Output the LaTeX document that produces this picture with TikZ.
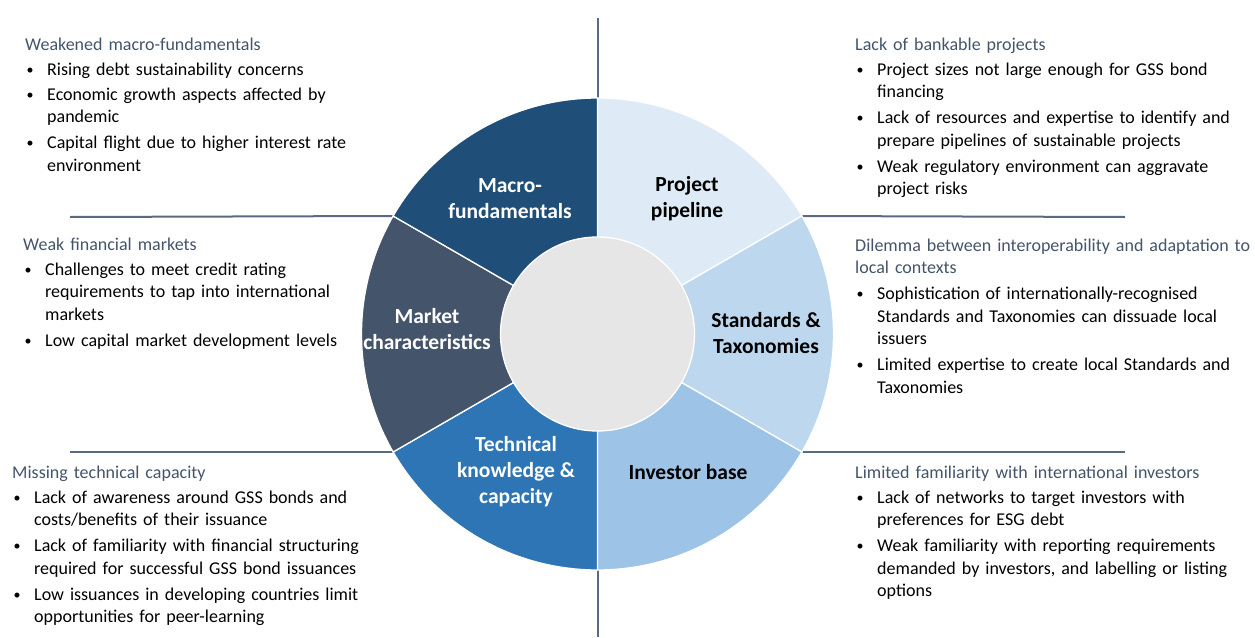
\documentclass[tikz,border=0pt]{standalone}
\usepackage{fontspec}
\setmainfont{Carlito}
\usepackage{tikz}
\usetikzlibrary{calc}
\definecolor{macroc}{HTML}{1F4E79}
\definecolor{marketc}{HTML}{44546A}
\definecolor{techc}{HTML}{2E75B6}
\definecolor{investc}{HTML}{9DC3E6}
\definecolor{standc}{HTML}{BDD7EE}
\definecolor{pipec}{HTML}{DEEBF7}
\definecolor{hubc}{HTML}{E7E6E6}
\definecolor{headc}{HTML}{44546A}
\definecolor{divc}{HTML}{5A6A82}
\newcommand{\bitem}[1]{\par\noindent\hspace*{1.5pt}%
  \makebox[20.5pt][l]{\raisebox{1pt}{\fontsize{14}{14}\selectfont\textbullet}}%
  \begin{tabular}[t]{@{}l@{}}#1\end{tabular}}
\newcommand{\bhead}[1]{\noindent{\color{headc}\begin{tabular}[t]{@{}l@{}}#1\end{tabular}}}

\begin{document}
\begin{tikzpicture}[x=1pt,y=-1pt,
    seg/.style={draw=white,line width=1.3pt},
    divider/.style={draw=divc,line width=2pt},
    seglabel/.style={font=\fontsize{21.5}{26}\selectfont\bfseries,align=center,inner sep=0pt},
    txtblock/.style={anchor=base west,inner sep=0pt,text width=420pt,align=left,
      font=\fontsize{18}{22.5}\selectfont\setlength{\parskip}{2.5pt}}]
  \useasboundingbox (0,0) rectangle (1255,637);

  \coordinate (c) at (597.5,334);
  \coordinate (vtop) at (597.5,18);
  \coordinate (vbot) at (597.5,637);
  \coordinate (hl1) at (70,217);
  \coordinate (hl2) at (70,452);
  \coordinate (hr1) at (1125,217);
  \coordinate (hr2) at (1125,452);

  % dividers
  \draw[divider] (vtop) -- (vbot);
  \draw[divider] (hl1) -- ($(c)+(210:236)$);
  \draw[divider] (hl2) -- ($(c)+(150:236)$);
  \draw[divider] (hr1) -- ($(c)+(-30:236)$);
  \draw[divider] (hr2) -- ($(c)+(30:236)$);

  % ring
  \foreach \a/\b/\col in {-90/-30/pipec, -30/30/standc, 30/90/investc,
      90/150/techc, 150/210/marketc, 210/270/macroc}
    \filldraw[seg,fill=\col] (c) -- ++(\a:236) arc (\a:\b:236) -- cycle;
  \filldraw[seg,fill=hubc] (c) circle (97);

  \node[seglabel,text=white] (macro) at (510,198.5) {Macro-\\fundamentals};
  \node[seglabel] (pipe) at (687,198.5) {Project\\pipeline};
  \node[seglabel] (stand) at (766,333.5) {Standards \&\\Taxonomies};
  \node[seglabel,text=white] (market) at (427,329.5) {Market\\characteristics};
  \node[seglabel,text=white] (tech) at (516,472) {Technical\\knowledge \&\\capacity};
  \node[seglabel] (invest) at (688,472) {Investor base};

  % text blocks
  \node[txtblock] (tl) at (25,50) {\bhead{Weakened macro-fundamentals}
    \bitem{Rising debt sustainability concerns}
    \bitem{Economic growth aspects affected by\\pandemic}
    \bitem{Capital flight due to higher interest rate\\environment}};
  \node[txtblock] (tr) at (855,50) {\bhead{Lack of bankable projects}
    \bitem{Project sizes not large enough for GSS bond\\financing}
    \bitem{Lack of resources and expertise to identify and\\prepare pipelines of sustainable projects}
    \bitem{Weak regulatory environment can aggravate\\project risks}};
  \node[txtblock] (ml) at (23,250) {\bhead{Weak financial markets}
    \bitem{Challenges to meet credit rating\\requirements to tap into international\\markets}
    \bitem{Low capital market development levels}};
  \node[txtblock] (mr) at (855,251) {\bhead{Dilemma between interoperability and adaptation to\\local contexts}
    \bitem{Sophistication of internationally-recognised\\Standards and Taxonomies can dissuade local\\issuers}
    \bitem{Limited expertise to create local Standards and\\Taxonomies}};
  \node[txtblock] (bl) at (12,478) {\bhead{Missing technical capacity}
    \bitem{Lack of awareness around GSS bonds and\\costs/benefits of their issuance}
    \bitem{Lack of familiarity with financial structuring\\required for successful GSS bond issuances}
    \bitem{Low issuances in developing countries limit\\opportunities for peer-learning}};
  \node[txtblock] (br) at (855,478) {\bhead{Limited familiarity with international investors}
    \bitem{Lack of networks to target investors with\\preferences for ESG debt}
    \bitem{Weak familiarity with reporting requirements\\demanded by investors, and labelling or listing\\options}};
\end{tikzpicture}
\end{document}
